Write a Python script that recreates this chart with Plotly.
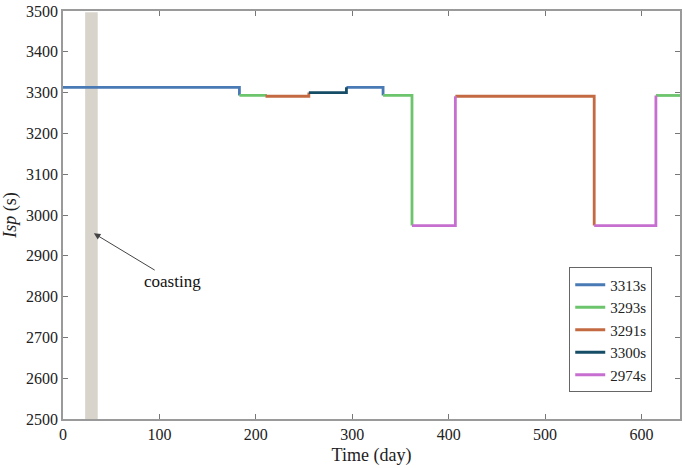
import plotly.graph_objects as go

# Step segments: start day of each constant-Isp arc, and its Isp value (s)
seg_start = [0, 183, 210, 255, 294, 332, 362, 407, 551, 615]
seg_end_last = 640
seg_isp = [3313, 3293, 3291, 3300, 3313, 3293, 2974, 3291, 2974, 3293]

legend_labels = ["3313s", "3293s", "3291s", "3300s", "2974s"]
legend_values = [3313, 3293, 3291, 3300, 2974]
colors = ["#4a7ab5", "#6cc46c", "#c46a42", "#164d66", "#c66fd0"]

coast_start, coast_end = 23, 36
coast_label_x, coast_label_y = 114, 2838
coast_arrow_x, coast_arrow_y = 32, 2955

x_range = [0, 640]
y_range = [2500, 3500]
x_ticks = [0, 100, 200, 300, 400, 500, 600]
y_ticks = [2500, 2600, 2700, 2800, 2900, 3000, 3100, 3200, 3300, 3400, 3500]

FONT = "Liberation Serif, Times New Roman, serif"

fig = go.Figure()

seg_end = seg_start[1:] + [seg_end_last]
for label, val, col in zip(legend_labels, legend_values, colors):
    xs, ys = [], []
    for i, (s, e, v) in enumerate(zip(seg_start, seg_end, seg_isp)):
        if v != val:
            continue
        xs += [s, e]
        ys += [v, v]
        if i + 1 < len(seg_isp):
            xs.append(e)
            ys.append(seg_isp[i + 1])
        xs.append(None)
        ys.append(None)
    fig.add_trace(go.Scatter(x=xs, y=ys, mode="lines", name=label,
                             line=dict(color=col, width=2.8)))

fig.add_shape(type="rect", xref="x", yref="paper", x0=coast_start, x1=coast_end,
              y0=0, y1=0.997, fillcolor="#d8d3cb", line=dict(width=0), layer="below")

fig.add_annotation(x=coast_arrow_x, y=coast_arrow_y, ax=coast_label_x, ay=coast_label_y,
                   xref="x", yref="y", axref="x", ayref="y",
                   text="coasting", showarrow=True, arrowhead=2, arrowsize=1.3,
                   arrowwidth=1, arrowcolor="#444", standoff=0,
                   font=dict(family=FONT, size=17, color="#111"))

axis_common = dict(showline=True, linecolor="#9a9a9a", linewidth=1.5, mirror="ticks",
                   ticks="inside", ticklen=5, tickcolor="#777", tickwidth=1,
                   showgrid=False, zeroline=False,
                   tickfont=dict(family=FONT, size=16, color="#222"))

fig.update_xaxes(range=x_range, tickvals=x_ticks,
                 title=dict(text="Time (day)", font=dict(family=FONT, size=18, color="#222"), standoff=6),
                 **axis_common)
fig.update_yaxes(range=y_range, tickvals=y_ticks,
                 title=dict(text="<i>Isp</i> (s)", font=dict(family=FONT, size=18, color="#222"), standoff=10),
                 **axis_common)

fig.update_layout(
    width=685, height=468,
    margin=dict(l=62, r=3, t=9, b=49),
    paper_bgcolor="white", plot_bgcolor="white",
    font=dict(family=FONT),
    legend=dict(x=0.955, y=0.065, xanchor="right", yanchor="bottom",
                bgcolor="white", bordercolor="#666", borderwidth=1,
                font=dict(family=FONT, size=15, color="#222"),
                tracegroupgap=0, itemwidth=30),
    showlegend=True,
)

fig.write_html("out.html", config={"displayModeBar": False},
               post_script="document.body.style.margin='0';document.body.style.padding='0';")
